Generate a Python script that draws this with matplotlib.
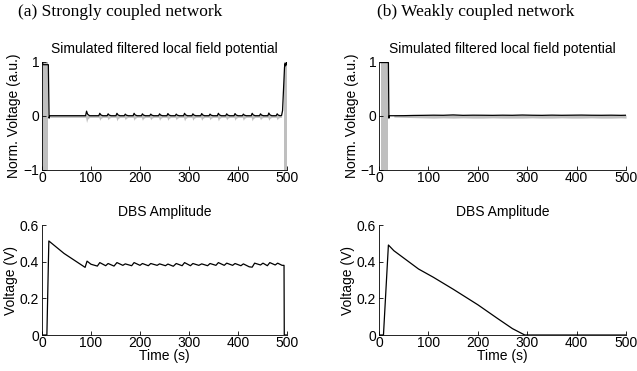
import numpy as np
import matplotlib
matplotlib.use("Agg")
import matplotlib.pyplot as plt

plt.rcParams["font.family"] = ["Liberation Sans", "DejaVu Sans"]
plt.rcParams["font.size"] = 10

GRAY = "#bfbfbf"

# ---------------- (a) strongly coupled network ----------------
# intervals where the raw (gray) LFP fills the whole [-1, 1] range
a_burst = [(1.0, 13.0), (493.0, 500.0)]
# filtered (black) LFP: start burst, quiet part, end burst
a_start_t = [1, 2, 13, 14.5, 16]
a_start_v = [1.0, 0.95, 0.95, -0.04, 0.005]
a_end_t = [489, 491, 493, 495, 496, 497, 499, 500]
a_end_v = [0.01, 0.1, 0.5, 0.9, 0.97, 0.93, 0.99, 0.95]
# small periodic bumps on the black trace and matching gray dips
a_bump_t = [91, 118, 135, 153, 170, 188, 205, 222, 240, 257, 274, 291,
            308, 326, 343, 360, 377, 394, 411, 429, 446, 463, 480]
a_bump_h = [0.09, 0.05, 0.04, 0.05, 0.035, 0.05, 0.04, 0.035, 0.04, 0.045,
            0.035, 0.05, 0.04, 0.045, 0.035, 0.05, 0.04, 0.045, 0.035, 0.05,
            0.04, 0.055, 0.04]
a_dip_h = [-0.12, -0.08, -0.07, -0.09, -0.07, -0.08, -0.08, -0.07, -0.08,
           -0.08, -0.07, -0.09, -0.08, -0.08, -0.07, -0.09, -0.07, -0.08,
           -0.08, -0.09, -0.07, -0.08, -0.07]

# DBS amplitude (V)
a_dbs_t = [0, 10, 14, 45, 88, 92, 100, 113, 118, 130, 135, 147, 153, 165,
           170, 183, 188, 200, 205, 217, 222, 235, 240, 252, 257, 268, 274,
           286, 291, 303, 308, 320, 326, 338, 343, 355, 360, 372, 377, 389,
           394, 406, 411, 423, 429, 434, 446, 451, 460, 465, 476, 481, 490,
           494, 494.5, 500]
a_dbs_v = [0, 0, 0.513, 0.445, 0.369, 0.403, 0.386, 0.376, 0.395, 0.378,
           0.390, 0.376, 0.395, 0.380, 0.388, 0.378, 0.395, 0.380, 0.390,
           0.378, 0.390, 0.380, 0.388, 0.378, 0.387, 0.375, 0.390, 0.378,
           0.395, 0.378, 0.390, 0.380, 0.388, 0.378, 0.390, 0.380, 0.395,
           0.380, 0.392, 0.380, 0.390, 0.378, 0.388, 0.372, 0.370, 0.392,
           0.382, 0.392, 0.378, 0.395, 0.382, 0.392, 0.380, 0.380, 0.0, 0.0]

# ---------------- (b) weakly coupled network ----------------
b_burst = [(3.5, 19.0)]
b_start_t = [3.5, 19, 20, 21]
b_start_v = [0.99, 0.99, -0.04, 0.005]
b_noise_t = [30, 50, 70, 90, 110, 130, 150, 170, 190, 210, 230, 250, 270,
             290, 310, 330, 350, 370, 390, 410, 430, 450, 470, 490, 500]
b_noise_v = [0.005, 0.006, 0.01, 0.012, 0.015, 0.013, 0.02, 0.012, 0.015,
             0.014, 0.012, 0.015, 0.013, 0.018, 0.014, 0.012, 0.016, 0.013,
             0.015, 0.017, 0.014, 0.013, 0.015, 0.012, 0.014]
b_gray_lo = [-0.02, -0.025, -0.03, -0.035, -0.04, -0.035, -0.04, -0.035,
             -0.04, -0.04, -0.035, -0.04, -0.04, -0.04, -0.035, -0.04,
             -0.04, -0.035, -0.04, -0.04, -0.035, -0.04, -0.04, -0.035, -0.04]

b_dbs_t = [0, 9, 19, 30, 50, 80, 110, 150, 200, 240, 270, 295, 500]
b_dbs_v = [0, 0, 0.491, 0.46, 0.42, 0.36, 0.315, 0.25, 0.165, 0.09, 0.035,
           0.0, 0.0]

TITLE_LFP = "Simulated filtered local field potential"
TITLE_DBS = "DBS Amplitude"


def bumped_line(bump_t, bump_h, base=0.005):
    t, v = [], []
    for bt, bh in zip(bump_t, bump_h):
        t += [bt - 2, bt, bt + 2, bt + 6]
        v += [base, bh, base + (bh - base) * 0.35, base]
    return t, v


def style(ax):
    for s in ("top", "right"):
        ax.spines[s].set_visible(False)
    for s in ("left", "bottom"):
        ax.spines[s].set_linewidth(0.6)
    ax.tick_params(direction="in", length=3, width=0.6, pad=2, labelsize=10)
    ax.tick_params(axis="x", pad=1)
    ax.set_xlim(0, 500)
    ax.set_xticks([0, 100, 200, 300, 400, 500])


fig = plt.figure(figsize=(6.37, 3.71), dpi=100)
ax_tl = fig.add_axes([0.0659, 0.5418, 0.3846, 0.2911])
ax_tr = fig.add_axes([0.5950, 0.5418, 0.3878, 0.2911])
ax_bl = fig.add_axes([0.0659, 0.0970, 0.3846, 0.2965])
ax_br = fig.add_axes([0.5950, 0.0970, 0.3878, 0.2965])

# ---- top-left LFP ----
ax = ax_tl
for t0, t1 in a_burst:
    ax.fill_between([t0, t1], [-1, -1], [1, 1], color=GRAY, lw=0, zorder=1)
bt, bv = bumped_line(a_bump_t, a_bump_h)
dt, dv = bumped_line(a_bump_t, a_dip_h, base=-0.025)
t_mid = np.concatenate([[16], dt, [489]])
lo_mid = np.concatenate([[-0.025], dv, [-0.025]])
ax.fill_between(t_mid, lo_mid, 0.02, color=GRAY, lw=0, zorder=1)
t_black = a_start_t + [88] + bt + a_end_t
v_black = a_start_v + [0.005] + bv + a_end_v
ax.plot(t_black, v_black, color="black", lw=0.9, zorder=3)

# ---- top-right LFP ----
ax = ax_tr
for t0, t1 in b_burst:
    ax.fill_between([t0, t1], [-1, -1], [1, 1], color=GRAY, lw=0, zorder=1)
ax.fill_between(b_noise_t, b_gray_lo, np.array(b_noise_v) + 0.005,
                color=GRAY, lw=0, zorder=1)
ax.plot(b_start_t + b_noise_t, b_start_v + b_noise_v, color="black",
        lw=0.9, zorder=3)

for ax in (ax_tl, ax_tr):
    style(ax)
    ax.set_ylim(-1, 1)
    ax.set_yticks([-1, 0, 1])
    ax.set_title(TITLE_LFP, fontsize=10, pad=6.5)
    ax.set_ylabel("Norm. Voltage (a.u.)", va="center")
ax_tl.yaxis.set_label_coords(-0.116, 0.5)
ax_tr.yaxis.set_label_coords(-0.109, 0.5)

# ---- DBS amplitude ----
ax_bl.plot(a_dbs_t, a_dbs_v, color="black", lw=0.9)
ax_br.plot(b_dbs_t, b_dbs_v, color="black", lw=0.9)
for ax in (ax_bl, ax_br):
    style(ax)
    ax.set_ylim(0, 0.6)
    ax.set_yticks([0, 0.2, 0.4, 0.6])
    ax.set_yticklabels(["0", "0.2", "0.4", "0.6"])
    ax.set_title(TITLE_DBS, fontsize=10, pad=6.5)
    ax.set_ylabel("Voltage (V)", va="center")
    ax.set_xlabel("Time (s)", va="center")
    ax.xaxis.set_label_coords(0.5, -0.195)
ax_bl.yaxis.set_label_coords(-0.127, 0.5)
ax_br.yaxis.set_label_coords(-0.126, 0.5)

fig.text(0.188, 0.968, "(a) Strongly coupled network", ha="center",
         va="center", fontsize=12.5, family=["Liberation Serif", "DejaVu Serif"])
fig.text(0.746, 0.968, "(b) Weakly coupled network", ha="center",
         va="center", fontsize=12.5, family=["Liberation Serif", "DejaVu Serif"])

fig.savefig("out.png", dpi=100)
